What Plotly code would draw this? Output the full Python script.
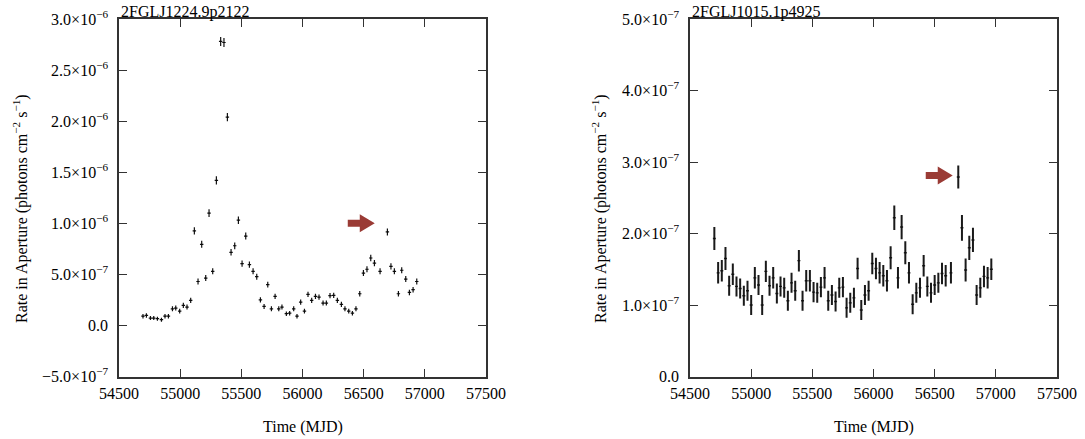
import plotly.graph_objects as go

# ---------------- data ----------------
titles = ["2FGLJ1224.9p2122", "2FGLJ1015.1p4925"]

mjd_a = [54696, 54724, 54757, 54784, 54814, 54847, 54876, 54904, 54937, 54964,
         54996, 55026, 55056, 55086, 55116, 55146, 55176, 55209, 55236, 55266,
         55296, 55331, 55358, 55386, 55416, 55446, 55476, 55506, 55536, 55566,
         55596, 55626, 55656, 55686, 55716, 55746, 55776, 55806, 55832, 55868,
         55895, 55928, 55955, 55985, 56016, 56045, 56075, 56106, 56135, 56168,
         56195, 56225, 56255, 56285, 56318, 56347, 56378, 56408, 56437, 56468,
         56498, 56527, 56558, 56588, 56634, 56694, 56723, 56751, 56784, 56811,
         56844, 56874, 56904, 56934]
flux_a_e6 = [0.091, 0.098, 0.072, 0.072, 0.066, 0.056, 0.091, 0.091, 0.163, 0.170,
             0.140, 0.196, 0.180, 0.245, 0.925, 0.430, 0.794, 0.464, 1.100, 0.530,
             1.420, 2.780, 2.770, 2.040, 0.716, 0.780, 1.030, 0.605, 0.875, 0.595,
             0.530, 0.477, 0.250, 0.186, 0.400, 0.163, 0.284, 0.163, 0.180, 0.115,
             0.120, 0.163, 0.091, 0.228, 0.140, 0.304, 0.245, 0.284, 0.277, 0.219,
             0.219, 0.291, 0.294, 0.245, 0.206, 0.163, 0.140, 0.120, 0.163, 0.310,
             0.513, 0.550, 0.660, 0.610, 0.530, 0.915, 0.578, 0.530, 0.310, 0.540,
             0.454, 0.323, 0.350, 0.430]
err_a_e6 = [0.022, 0.022, 0.020, 0.020, 0.020, 0.020, 0.022, 0.022, 0.024, 0.024,
            0.024, 0.025, 0.025, 0.026, 0.035, 0.030, 0.034, 0.030, 0.038, 0.030,
            0.040, 0.045, 0.045, 0.040, 0.032, 0.033, 0.036, 0.030, 0.034, 0.030,
            0.030, 0.029, 0.026, 0.025, 0.028, 0.024, 0.026, 0.024, 0.025, 0.022,
            0.022, 0.024, 0.022, 0.025, 0.024, 0.026, 0.026, 0.026, 0.026, 0.025,
            0.025, 0.026, 0.026, 0.026, 0.025, 0.024, 0.024, 0.022, 0.024, 0.027,
            0.030, 0.030, 0.032, 0.031, 0.030, 0.035, 0.030, 0.030, 0.027, 0.030,
            0.029, 0.027, 0.027, 0.029]

mjd_b = [54699, 54730, 54760, 54790, 54820, 54850, 54880, 54910, 54940, 54970,
         55000, 55030, 55060, 55090, 55120, 55150, 55180, 55210, 55240, 55270,
         55300, 55330, 55360, 55390, 55420, 55450, 55480, 55510, 55540, 55570,
         55600, 55630, 55660, 55690, 55720, 55750, 55780, 55810, 55840, 55870,
         55900, 55930, 55960, 55990, 56020, 56050, 56080, 56110, 56140, 56170,
         56200, 56230, 56260, 56290, 56320, 56350, 56380, 56410, 56440, 56470,
         56500, 56530, 56560, 56590, 56633, 56693, 56723, 56753, 56783, 56813,
         56843, 56873, 56903, 56933, 56963]
flux_b_e7 = [1.93, 1.45, 1.48, 1.65, 1.27, 1.43, 1.26, 1.23, 1.13, 1.20,
             1.00, 1.38, 1.28, 1.00, 1.47, 1.27, 1.38, 1.16, 1.26, 1.24,
             1.06, 1.31, 1.20, 1.62, 1.06, 1.34, 1.34, 1.18, 1.17, 1.25,
             1.38, 1.06, 1.14, 1.05, 1.24, 1.25, 0.96, 1.03, 1.10, 1.51,
             0.93, 1.14, 1.20, 1.58, 1.51, 1.45, 1.41, 1.34, 1.66, 2.22,
             1.38, 2.09, 1.73, 1.45, 1.01, 1.17, 1.24, 1.55, 1.26, 1.17,
             1.28, 1.31, 1.44, 1.41, 1.45, 2.79, 2.08, 1.49, 1.80, 1.91,
             1.14, 1.24, 1.40, 1.38, 1.50]
err_b_e7 = [0.16, 0.15, 0.15, 0.16, 0.14, 0.15, 0.14, 0.14, 0.14, 0.14,
            0.14, 0.15, 0.14, 0.14, 0.15, 0.14, 0.15, 0.14, 0.14, 0.14,
            0.14, 0.14, 0.14, 0.15, 0.14, 0.15, 0.15, 0.14, 0.14, 0.14,
            0.15, 0.14, 0.14, 0.14, 0.14, 0.14, 0.14, 0.14, 0.14, 0.15,
            0.14, 0.14, 0.14, 0.15, 0.15, 0.15, 0.15, 0.15, 0.16, 0.17,
            0.15, 0.17, 0.16, 0.15, 0.14, 0.14, 0.14, 0.15, 0.14, 0.14,
            0.14, 0.14, 0.15, 0.15, 0.15, 0.16, 0.18, 0.16, 0.17, 0.17,
            0.14, 0.14, 0.15, 0.15, 0.15]

x_ticks = [54500, 55000, 55500, 56000, 56500, 57000, 57500]
x_text = ["54500", "55000", "55500", "56000", "56500", "57000", "57500"]
ya_ticks = [-5e-7, 0, 5e-7, 1e-6, 1.5e-6, 2e-6, 2.5e-6, 3e-6]
ya_text = ["\u22125.0\u00d710<sup>\u22127</sup>", "0.0", "5.0\u00d710<sup>\u22127</sup>",
           "1.0\u00d710<sup>\u22126</sup>", "1.5\u00d710<sup>\u22126</sup>",
           "2.0\u00d710<sup>\u22126</sup>", "2.5\u00d710<sup>\u22126</sup>",
           "3.0\u00d710<sup>\u22126</sup>"]
yb_ticks = [0, 1e-7, 2e-7, 3e-7, 4e-7, 5e-7]
yb_text = ["0.0", "1.0\u00d710<sup>\u22127</sup>", "2.0\u00d710<sup>\u22127</sup>",
           "3.0\u00d710<sup>\u22127</sup>", "4.0\u00d710<sup>\u22127</sup>",
           "5.0\u00d710<sup>\u22127</sup>"]

# arrow markers (tail position in data coords)
arrow_a = (56370, 1.0e-6)
arrow_b = (56427, 2.81e-7)

# ---------------- figure ----------------
FONT = "Liberation Serif"
W, H = 1085, 439
fig = go.Figure()

fig.add_trace(go.Scatter(
    x=mjd_a, y=[v * 1e-6 for v in flux_a_e6], mode="markers",
    marker=dict(size=1, color="black"),
    error_y=dict(type="data", array=[e * 1e-6 for e in err_a_e6], color="#111",
                 thickness=1.2, width=0),
    error_x=dict(type="constant", value=14, color="#111", thickness=1.2, width=0),
    xaxis="x", yaxis="y", showlegend=False))

fig.add_trace(go.Scatter(
    x=mjd_b, y=[v * 1e-7 for v in flux_b_e7], mode="markers",
    marker=dict(size=1, color="black"),
    error_y=dict(type="data", array=[e * 1e-7 for e in err_b_e7], color="#1a1a1a",
                 thickness=2, width=0),
    error_x=dict(type="constant", value=12, color="#1a1a1a", thickness=1.4, width=0),
    xaxis="x2", yaxis="y2", showlegend=False))

dom_a = [119 / W, 486 / W]
dom_b = [690 / W, 1057 / W]
dom_y = [(H - 376.5) / H, (H - 19) / H]

axis_common = dict(showline=True, linecolor="#333", linewidth=1.5, mirror="ticks",
                   ticks="inside", ticklen=8, tickwidth=1.2, tickcolor="#333",
                   showgrid=False, zeroline=False, automargin=False,
                   tickfont=dict(family=FONT, size=16, color="black"))

fig.update_layout(
    template="none",
    width=W, height=H, margin=dict(l=0, r=0, t=0, b=0, pad=0, autoexpand=False),
    paper_bgcolor="white", plot_bgcolor="white",
    font=dict(family=FONT, size=16, color="black"),
    xaxis=dict(domain=dom_a, range=[54500, 57500], tickvals=x_ticks, ticktext=x_text,
               ticklabelstandoff=2, anchor="y", **axis_common),
    yaxis=dict(domain=dom_y, range=[-5e-7, 3e-6], tickvals=ya_ticks, ticktext=ya_text,
               ticklabelstandoff=6, anchor="x", **axis_common),
    xaxis2=dict(domain=dom_b, range=[54500, 57500], tickvals=x_ticks, ticktext=x_text,
                ticklabelstandoff=2, anchor="y2", **axis_common),
    yaxis2=dict(domain=dom_y, range=[0, 5e-7], tickvals=yb_ticks, ticktext=yb_text,
                ticklabelstandoff=6, anchor="x2", **axis_common),
)

ytitle = "Rate in Aperture (photons cm<sup>\u22122</sup> s<sup>\u22121</sup>)"
ann = []
for i, (dom, title) in enumerate(zip([dom_a, dom_b], titles)):
    ann.append(dict(text=title, x=dom[0], y=dom_y[1], xref="paper", yref="paper",
                    xanchor="left", yanchor="bottom", yshift=-4, showarrow=False,
                    font=dict(family=FONT, size=16)))
    ann.append(dict(text="Time (MJD)", x=(dom[0] + dom[1]) / 2, y=(H - 427) / H,
                    xref="paper", yref="paper", xanchor="center", yanchor="middle",
                    showarrow=False, font=dict(family=FONT, size=16)))
ann.append(dict(text=ytitle, x=20 / W, y=(H - 209) / H, xref="paper", yref="paper",
                textangle=-90, xanchor="center", yanchor="middle", showarrow=False,
                font=dict(family=FONT, size=16)))
ann.append(dict(text=ytitle, x=599 / W, y=(H - 209) / H, xref="paper", yref="paper",
                textangle=-90, xanchor="center", yanchor="middle", showarrow=False,
                font=dict(family=FONT, size=16)))
fig.update_layout(annotations=ann)

arrow_path = "M0,-3.5 L12,-3.5 L12,-9 L27,0 L12,9 L12,3.5 L0,3.5 Z"
for (ax, ay), xr, yr in [(arrow_a, "x", "y"), (arrow_b, "x2", "y2")]:
    fig.add_shape(type="path", xref=xr, yref=yr, xsizemode="pixel", ysizemode="pixel",
                  xanchor=ax, yanchor=ay, path=arrow_path,
                  fillcolor="#9a3b35", line=dict(width=0))

fig.write_html("out.html", config={"displayModeBar": False},
               post_script="document.body.style.margin='0';"
                           "document.body.style.overflow='hidden';")
